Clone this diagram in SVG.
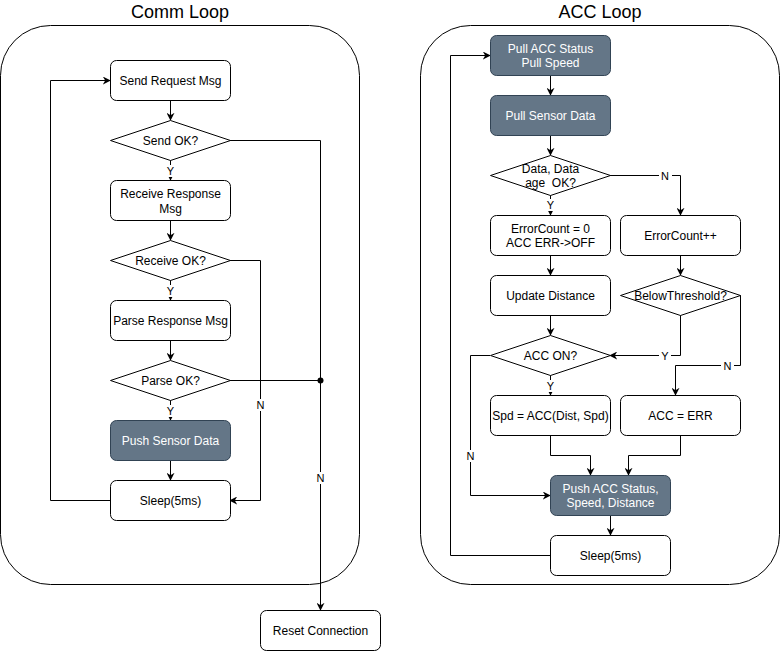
<svg xmlns="http://www.w3.org/2000/svg" width="781" height="651" viewBox="0 0 781 651">
  <style>
    .title { font-family: "Liberation Sans", Arial, sans-serif; font-size: 18px; fill: #000; text-anchor: middle; }
    .lbl { font-family: "Liberation Sans", Arial, sans-serif; font-size: 12px; fill: #000; text-anchor: middle; dominant-baseline: central; }
    .wlbl { font-family: "Liberation Sans", Arial, sans-serif; font-size: 12px; fill: #fff; text-anchor: middle; dominant-baseline: central; }
    .elbl { font-family: "Liberation Sans", Arial, sans-serif; font-size: 11px; fill: #000; text-anchor: middle; dominant-baseline: central; }
    .box { fill: #fff; stroke: #000; stroke-width: 1; }
    .dark { fill: #647687; stroke: #314354; stroke-width: 1; }
    .frame { fill: #fff; stroke: #000; stroke-width: 1; }
    .edge { fill: none; stroke: #000; stroke-width: 1; marker-end: url(#arrow); }
    .plain { fill: none; stroke: #000; stroke-width: 1; }
    .bg { fill: #fff; }
  </style>
  <defs>
    <marker id="arrow" viewBox="0 0 10 10" refX="9" refY="5" markerWidth="8" markerHeight="8" markerUnits="userSpaceOnUse" orient="auto">
      <path d="M0,0 L10,5 L0,10 L3,5 z" fill="#000"/>
    </marker>
  </defs>

  <rect width="781" height="651" fill="#fff"/>

  <!-- loop frames -->
  <g id="comm-loop">
    <rect class="frame" x="0.5" y="25.5" width="359" height="559" rx="50" ry="50"/>
    <text class="title" x="180" y="18">Comm Loop</text>
  </g>
  <g id="acc-loop">
    <rect class="frame" x="420.5" y="25.5" width="359" height="559" rx="50" ry="50"/>
    <text class="title" x="600" y="18">ACC Loop</text>
  </g>

  <!-- connectors -->
  <g id="connectors">
    <!-- comm loop -->
    <path class="edge" d="M170.5,100 V120"/>
    <path class="edge" d="M170.5,160 V180"/>
    <path class="edge" d="M170.5,220 V240"/>
    <path class="edge" d="M170.5,280 V300"/>
    <path class="edge" d="M170.5,340 V360"/>
    <path class="edge" d="M170.5,400 V420"/>
    <path class="edge" d="M170.5,460 V480"/>
    <path class="edge" d="M110,500.5 H50.5 V80.5 H110"/>
    <path class="edge" d="M230,140.5 H320.5 V610"/>
    <path class="edge" d="M230,260.5 H260.5 V500.5 H230"/>
    <path class="plain" d="M230,380.5 H320.5"/>
    <circle cx="320.5" cy="380.5" r="3" fill="#000"/>
    <rect class="bg" x="165" y="165" width="11" height="12"/>
    <text class="elbl" x="170.5" y="171">Y</text>
    <rect class="bg" x="165" y="285" width="11" height="12"/>
    <text class="elbl" x="170.5" y="291">Y</text>
    <rect class="bg" x="165" y="405" width="11" height="12"/>
    <text class="elbl" x="170.5" y="411">Y</text>
    <rect class="bg" x="254" y="399" width="13" height="12"/>
    <text class="elbl" x="260.5" y="405">N</text>
    <rect class="bg" x="314" y="472" width="13" height="12"/>
    <text class="elbl" x="320.5" y="478">N</text>

    <!-- acc loop -->
    <path class="edge" d="M550.5,75 V95"/>
    <path class="edge" d="M550.5,135 V155"/>
    <path class="edge" d="M550.5,195 V215"/>
    <path class="edge" d="M550.5,255 V275"/>
    <path class="edge" d="M550.5,315 V335"/>
    <path class="edge" d="M550.5,375 V395"/>
    <path class="edge" d="M610,175.5 H680.5 V215"/>
    <path class="edge" d="M680.5,255 V275"/>
    <path class="edge" d="M680.5,315 V355.5 H610"/>
    <path class="edge" d="M740,295.5 H740.5 V365.5 H675.5 V395"/>
    <path class="edge" d="M490,355.5 H470.5 V495.5 H550"/>
    <path class="edge" d="M550.5,435 V455.5 H590.5 V475"/>
    <path class="edge" d="M680.5,435 V455.5 H628.5 V475"/>
    <path class="edge" d="M610.5,515 V535"/>
    <path class="edge" d="M550,555.5 H450.5 V55.5 H490"/>
    <rect class="bg" x="659" y="169" width="13" height="12"/>
    <text class="elbl" x="665" y="175.5">N</text>
    <rect class="bg" x="545" y="199" width="11" height="12"/>
    <text class="elbl" x="550.5" y="205">Y</text>
    <rect class="bg" x="659" y="349" width="12" height="12"/>
    <text class="elbl" x="665" y="355.5">Y</text>
    <rect class="bg" x="721" y="360" width="13" height="12"/>
    <text class="elbl" x="727.5" y="366">N</text>
    <rect class="bg" x="545" y="380" width="11" height="12"/>
    <text class="elbl" x="550.5" y="386">Y</text>
    <rect class="bg" x="464" y="450" width="13" height="12"/>
    <text class="elbl" x="470.5" y="456">N</text>
  </g>

  <!-- comm loop nodes -->
  <g id="send-request">
    <rect class="box" x="110.5" y="60.5" width="120" height="40" rx="6"/>
    <text class="lbl" x="170.5" y="80.5">Send Request Msg</text>
  </g>
  <g id="send-ok">
    <polygon class="box" points="170.5,120.5 230.5,140.5 170.5,160.5 110.5,140.5"/>
    <text class="lbl" x="170.5" y="140.5">Send OK?</text>
  </g>
  <g id="receive-response">
    <rect class="box" x="110.5" y="180.5" width="120" height="40" rx="6"/>
    <text class="lbl" x="170.5" y="193.5">Receive Response</text>
    <text class="lbl" x="170.5" y="208.5">Msg</text>
  </g>
  <g id="receive-ok">
    <polygon class="box" points="170.5,240.5 230.5,260.5 170.5,280.5 110.5,260.5"/>
    <text class="lbl" x="170.5" y="260.5">Receive OK?</text>
  </g>
  <g id="parse-response">
    <rect class="box" x="110.5" y="300.5" width="120" height="40" rx="6"/>
    <text class="lbl" x="170.5" y="320.5">Parse Response Msg</text>
  </g>
  <g id="parse-ok">
    <polygon class="box" points="170.5,360.5 230.5,380.5 170.5,400.5 110.5,380.5"/>
    <text class="lbl" x="170.5" y="380.5">Parse OK?</text>
  </g>
  <g id="push-sensor">
    <rect class="dark" x="110.5" y="420.5" width="120" height="40" rx="6"/>
    <text class="wlbl" x="170.5" y="440.5">Push Sensor Data</text>
  </g>
  <g id="comm-sleep">
    <rect class="box" x="110.5" y="480.5" width="120" height="40" rx="6"/>
    <text class="lbl" x="170.5" y="500.5">Sleep(5ms)</text>
  </g>
  <g id="reset-connection">
    <rect class="box" x="260.5" y="610.5" width="120" height="40" rx="6"/>
    <text class="lbl" x="320.5" y="630.5">Reset Connection</text>
  </g>

  <!-- acc loop nodes -->
  <g id="pull-status">
    <rect class="dark" x="490.5" y="35.5" width="120" height="40" rx="6"/>
    <text class="wlbl" x="550.5" y="48.5">Pull ACC Status</text>
    <text class="wlbl" x="550.5" y="63">Pull Speed</text>
  </g>
  <g id="pull-sensor">
    <rect class="dark" x="490.5" y="95.5" width="120" height="40" rx="6"/>
    <text class="wlbl" x="550.5" y="115.5">Pull Sensor Data</text>
  </g>
  <g id="data-ok">
    <polygon class="box" points="550.5,155.5 610.5,175.5 550.5,195.5 490.5,175.5"/>
    <text class="lbl" x="550.5" y="169">Data, Data</text>
    <text class="lbl" x="550.5" y="183">age&#160; OK?</text>
  </g>
  <g id="error-reset">
    <rect class="box" x="490.5" y="215.5" width="120" height="40" rx="6"/>
    <text class="lbl" x="550.5" y="228.5">ErrorCount = 0</text>
    <text class="lbl" x="550.5" y="243">ACC ERR-&gt;OFF</text>
  </g>
  <g id="error-inc">
    <rect class="box" x="620.5" y="215.5" width="120" height="40" rx="6"/>
    <text class="lbl" x="680.5" y="235.5">ErrorCount++</text>
  </g>
  <g id="update-distance">
    <rect class="box" x="490.5" y="275.5" width="120" height="40" rx="6"/>
    <text class="lbl" x="550.5" y="295.5">Update Distance</text>
  </g>
  <g id="below-threshold">
    <polygon class="box" points="680.5,275.5 740.5,295.5 680.5,315.5 620.5,295.5"/>
    <text class="lbl" x="680.5" y="295.5">BelowThreshold?</text>
  </g>
  <g id="acc-on">
    <polygon class="box" points="550.5,335.5 610.5,355.5 550.5,375.5 490.5,355.5"/>
    <text class="lbl" x="550.5" y="355.5">ACC ON?</text>
  </g>
  <g id="acc-compute">
    <rect class="box" x="490.5" y="395.5" width="120" height="40" rx="6"/>
    <text class="lbl" x="550.5" y="415.5">Spd = ACC(Dist, Spd)</text>
  </g>
  <g id="acc-err">
    <rect class="box" x="620.5" y="395.5" width="120" height="40" rx="6"/>
    <text class="lbl" x="680.5" y="415.5">ACC = ERR</text>
  </g>
  <g id="push-acc">
    <rect class="dark" x="550.5" y="475.5" width="120" height="40" rx="6"/>
    <text class="wlbl" x="610.5" y="488.5">Push ACC Status,</text>
    <text class="wlbl" x="610.5" y="503">Speed, Distance</text>
  </g>
  <g id="acc-sleep">
    <rect class="box" x="550.5" y="535.5" width="120" height="40" rx="6"/>
    <text class="lbl" x="610.5" y="555.5">Sleep(5ms)</text>
  </g>
</svg>
